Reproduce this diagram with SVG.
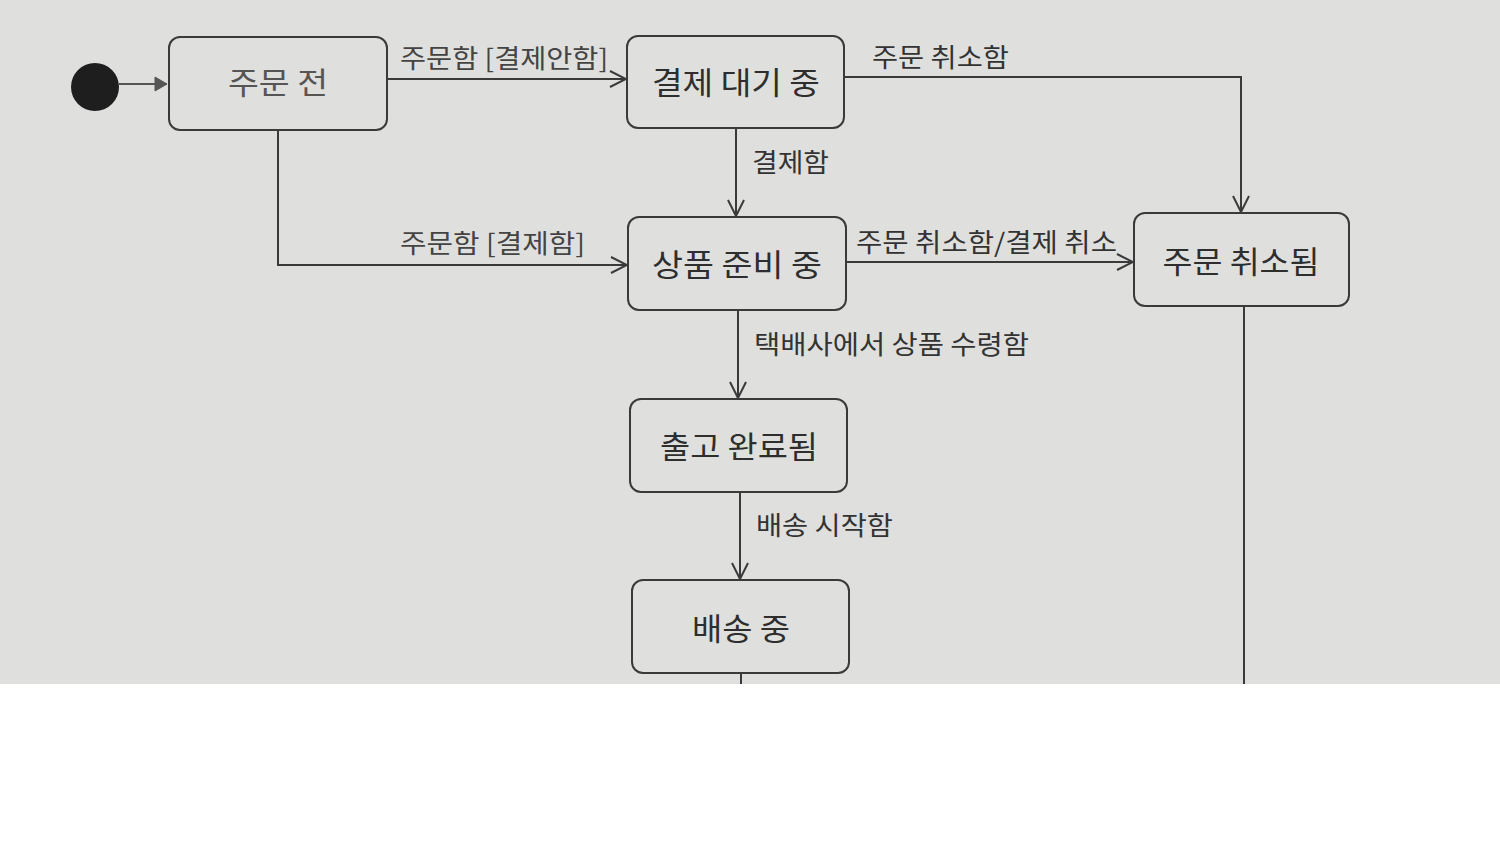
<svg xmlns="http://www.w3.org/2000/svg" width="1500" height="865" viewBox="0 0 1500 865">
<defs>
<marker id="arr" viewBox="0 0 18 20" refX="17" refY="10" markerWidth="18" markerHeight="20" markerUnits="userSpaceOnUse" orient="auto">
<path d="M1,2 L17,10 L1,18" fill="none" stroke="#3a3a3a" stroke-width="2"/>
</marker>
<marker id="arrS" viewBox="0 0 14 16" refX="13" refY="8" markerWidth="14" markerHeight="16" markerUnits="userSpaceOnUse" orient="auto">
<path d="M1,1 L13,8 L1,15 Z" fill="#555" stroke="#555" stroke-width="1"/>
</marker>
</defs>
<style>
.node rect{fill:none;stroke:#3a3a3a;stroke-width:2}
.nt{font-family:"Noto Sans CJK KR","Noto Sans",sans-serif;font-size:31px;fill:#2e2e2e;text-anchor:middle;dominant-baseline:central}
.lb{font-family:"Noto Sans CJK KR","Noto Sans",sans-serif;font-size:26px;fill:#333;dominant-baseline:central}
.cn{fill:none;stroke:#3a3a3a;stroke-width:2}
</style>
<rect x="0" y="0" width="1500" height="684" fill="#dfe0de"/>
<rect x="0" y="684" width="1500" height="181" fill="#ffffff"/>

<g id="initial">
<circle cx="95" cy="87" r="24" fill="#1e1e1e"/>
</g>
<g id="n-before" class="node">
<rect x="169" y="37" width="218" height="93" rx="11"/>
<text class="nt" x="278" y="80" style="fill:#555" textLength="100" lengthAdjust="spacingAndGlyphs">주문 전</text>
</g>
<g id="n-waiting" class="node">
<rect x="627" y="36" width="217" height="92" rx="11"/>
<text class="nt" x="736" y="80" textLength="168" lengthAdjust="spacingAndGlyphs">결제 대기 중</text>
</g>
<g id="n-preparing" class="node">
<rect x="628" y="217" width="218" height="93" rx="11"/>
<text class="nt" x="737" y="262" textLength="170" lengthAdjust="spacingAndGlyphs">상품 준비 중</text>
</g>
<g id="n-cancelled" class="node">
<rect x="1134" y="213" width="215" height="93" rx="11"/>
<text class="nt" x="1241" y="259" textLength="157" lengthAdjust="spacingAndGlyphs">주문 취소됨</text>
</g>
<g id="n-shipped" class="node">
<rect x="630" y="399" width="217" height="93" rx="11"/>
<text class="nt" x="739" y="444" textLength="158" lengthAdjust="spacingAndGlyphs">출고 완료됨</text>
</g>
<g id="n-delivering" class="node">
<rect x="632" y="580" width="217" height="93" rx="11"/>
<text class="nt" x="741" y="626" textLength="98" lengthAdjust="spacingAndGlyphs">배송 중</text>
</g>

<g id="connectors">
<path class="cn" d="M119,84 L167,84" marker-end="url(#arrS)" style="stroke:#555"/>
<path class="cn" d="M387,79 L626,79" marker-end="url(#arr)"/>
<path class="cn" d="M844,77 L1241,77 L1241,212" marker-end="url(#arr)"/>
<path class="cn" d="M736,128 L736,216" marker-end="url(#arr)"/>
<path class="cn" d="M278,130 L278,265 L627,265" marker-end="url(#arr)"/>
<path class="cn" d="M846,262 L1133,262" marker-end="url(#arr)"/>
<path class="cn" d="M738,310 L738,398" marker-end="url(#arr)"/>
<path class="cn" d="M740,492 L740,579" marker-end="url(#arr)"/>
<path class="cn" d="M741,673 L741,684"/>
<path class="cn" d="M1244,306 L1244,684"/>
<text class="lb" x="400" y="56" textLength="208" lengthAdjust="spacingAndGlyphs" style="fill:#444">주문함 [결제안함]</text>
<text class="lb" x="872" y="55" textLength="137" lengthAdjust="spacingAndGlyphs">주문 취소함</text>
<text class="lb" x="752" y="160" textLength="77" lengthAdjust="spacingAndGlyphs">결제함</text>
<text class="lb" x="400" y="241" textLength="185" lengthAdjust="spacingAndGlyphs" style="fill:#444">주문함 [결제함]</text>
<text class="lb" x="856" y="240" textLength="261" lengthAdjust="spacingAndGlyphs">주문 취소함/결제 취소</text>
<text class="lb" x="754" y="342" textLength="275" lengthAdjust="spacingAndGlyphs">택배사에서 상품 수령함</text>
<text class="lb" x="756" y="523" textLength="137" lengthAdjust="spacingAndGlyphs">배송 시작함</text>
</g>
</svg>
